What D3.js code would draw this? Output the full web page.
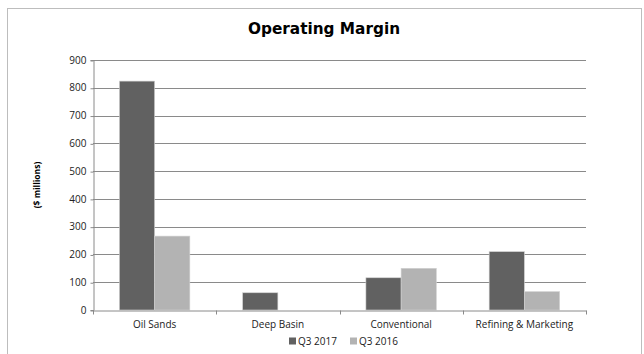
<!DOCTYPE html>
<html>
<head>
<meta charset="utf-8">
<script src="https://cdn.jsdelivr.net/npm/d3@7"></script>
<style>
    body { margin: 0; background: #fff; }
    svg { display: block; }
    .tick text { font-family: "Open Sans", sans-serif; font-size: 10px; fill: #222; }
</style>
</head>
<body>
<div id="chart"></div>
<script>
// Operating margin by segment, Q3 2017 vs Q3 2016 ($ millions)
const categories = ['Oil Sands', 'Deep Basin', 'Conventional', 'Refining & Marketing'];
const seriesNames = ['Q3 2017', 'Q3 2016'];
const q3_2017 = [824, 62, 116, 210];
const q3_2016 = [266, 0, 150, 66];
const yTicks = [0, 100, 200, 300, 400, 500, 600, 700, 800, 900];

const seriesColors = ['#616161', '#b3b3b3'];
const width = 644;
const height = 354;
const margin = { top: 60, right: 58, bottom: 44, left: 93 };

const svg = d3.select('#chart')
    .append('svg')
    .attr('width', width)
    .attr('height', height);

// chart frame
svg.append('rect')
    .attr('x', 7.5).attr('y', 8.5)
    .attr('width', 634).attr('height', 360)
    .attr('fill', '#fff')
    .attr('stroke', '#bdbdbd');

svg.append('text')
    .attr('x', 324).attr('y', 34)
    .attr('text-anchor', 'middle')
    .style('font-family', '"DejaVu Sans", sans-serif')
    .style('font-weight', 'bold')
    .style('font-size', '15.3px')
    .text('Operating Margin');

const x = d3.scaleBand()
    .domain(categories)
    .range([margin.left, width - margin.right]);

const x1 = d3.scaleBand()
    .domain(seriesNames)
    .range([0, x.bandwidth()])
    .paddingOuter(0.75)
    .paddingInner(0);

const y = d3.scaleLinear()
    .domain([0, 900])
    .range([height - margin.bottom, margin.top]);

// gridlines
svg.append('g')
    .selectAll('line')
    .data(yTicks.slice(1))
    .join('line')
    .attr('x1', margin.left).attr('x2', width - margin.right)
    .attr('y1', (d) => Math.round(y(d)) + 0.5)
    .attr('y2', (d) => Math.round(y(d)) + 0.5)
    .attr('stroke', '#8a8a8a');

// y axis
const yAxis = svg.append('g')
    .attr('transform', `translate(${margin.left + 0.5},0)`)
    .call(d3.axisLeft(y).tickValues(yTicks).tickSize(3).tickPadding(4));
yAxis.selectAll('.domain, .tick line').attr('stroke', '#8a8a8a');
yAxis.selectAll('.tick line').attr('transform', 'translate(0,0.5)');

svg.append('text')
    .attr('transform', `translate(40,${(y(0) + y(900)) / 2}) rotate(-90)`)
    .attr('text-anchor', 'middle')
    .style('font-family', '"Open Sans", sans-serif')
    .style('font-weight', 'bold')
    .style('font-size', '8.5px')
    .text('($ millions)');

// bars
const rows = categories.map((c, i) => ({
    category: c,
    values: [
        { series: seriesNames[0], value: q3_2017[i] },
        { series: seriesNames[1], value: q3_2016[i] }
    ]
}));

svg.append('g')
    .selectAll('g')
    .data(rows)
    .join('g')
    .attr('transform', (d) => `translate(${x(d.category)},0)`)
    .selectAll('rect')
    .data((d) => d.values.filter((v) => v.value > 0))
    .join('rect')
    .attr('x', (d) => x1(d.series))
    .attr('width', x1.bandwidth())
    .attr('y', (d) => y(d.value))
    .attr('height', (d) => y(0) - y(d.value))
    .attr('fill', (d) => seriesColors[seriesNames.indexOf(d.series)])
    .attr('stroke', '#d0d0d0')
    .attr('stroke-width', 0.6);

// x axis
const xAxis = svg.append('g')
    .attr('transform', `translate(0,${Math.round(y(0)) + 0.5})`)
    .call(d3.axisBottom(x).tickSize(0).tickPadding(10));
xAxis.select('.domain').attr('stroke', '#8a8a8a');
xAxis.append('g')
    .selectAll('line')
    .data([...categories.map((c) => x(c)), width - margin.right])
    .join('line')
    .attr('x1', (d) => Math.round(d) + 0.5).attr('x2', (d) => Math.round(d) + 0.5)
    .attr('y1', 0).attr('y2', 4)
    .attr('stroke', '#8a8a8a');

// legend
const legend = svg.append('g')
    .attr('transform', 'translate(289,341)')
    .selectAll('g')
    .data(seriesNames)
    .join('g')
    .attr('transform', (d, i) => `translate(${i * 61},0)`);

legend.append('rect')
    .attr('x', 0).attr('y', -3.5)
    .attr('width', 7).attr('height', 7)
    .attr('fill', (d, i) => seriesColors[i]);

legend.append('text')
    .attr('x', 9).attr('dy', '0.35em')
    .style('font-family', '"Open Sans", sans-serif')
    .style('font-size', '10px')
    .style('fill', '#222')
    .text((d) => d);
</script>
</body>
</html>
